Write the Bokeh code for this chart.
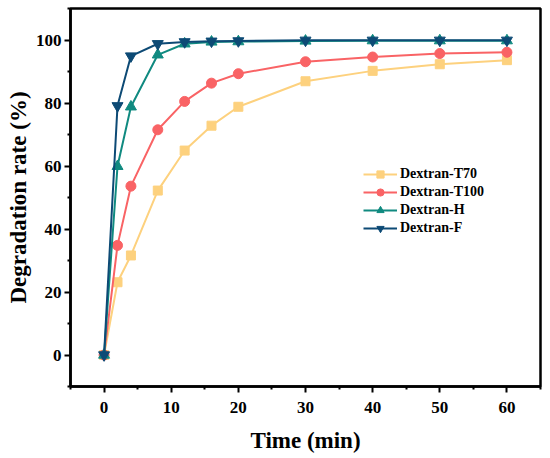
from bokeh.plotting import figure
from bokeh.models import Range1d, FixedTicker
from bokeh.embed import file_html
from bokeh.resources import INLINE

time_min = [0, 2, 4, 8, 12, 16, 20, 30, 40, 50, 60]
t70 = [0, 23.1, 31.6, 52.2, 64.9, 72.8, 78.8, 86.9, 90.2, 92.3, 93.6]
t100 = [0, 34.8, 53.6, 71.5, 80.5, 86.3, 89.3, 93.1, 94.6, 95.7, 96.1]
dex_h = [0, 59.9, 78.8, 95.3, 98.8, 99.4, 99.5, 99.7, 99.8, 99.8, 99.8]
dex_f = [0, 79.1, 94.9, 98.8, 99.4, 99.6, 99.7, 99.9, 99.9, 99.9, 99.9]

labels = ["Dextran-T70", "Dextran-T100", "Dextran-H", "Dextran-F"]
colors = ["#FDD17E", "#F96365", "#108A80", "#0D4A75"]
markers = ["square", "circle", "triangle", "inverted_triangle"]
sizes = [9, 10, 11, 11]
series = [t70, t100, dex_h, dex_f]

x_ticks = [0, 10, 20, 30, 40, 50, 60]
y_ticks = [0, 20, 40, 60, 80, 100]

FONT = "Liberation Serif"

p = figure(width=550, height=458, output_backend="svg", toolbar_location=None,
           x_range=Range1d(-5, 65), y_range=Range1d(-10, 110),
           min_border_left=70, min_border_right=10, min_border_top=8, min_border_bottom=72)

for lab, col, mk, sz, ys in zip(labels, colors, markers, sizes, series):
    p.line(time_min, ys, line_color=col, line_width=2, legend_label=lab)
    p.scatter(time_min, ys, marker=mk, size=sz, fill_color=col, line_color=col, legend_label=lab)

p.xgrid.visible = False
p.ygrid.visible = False
p.outline_line_color = "black"
p.outline_line_width = 2.5
p.background_fill_color = "white"
p.border_fill_color = "white"

p.xaxis.ticker = FixedTicker(ticks=x_ticks, minor_ticks=[-5, 5, 15, 25, 35, 45, 55, 65])
p.yaxis.ticker = FixedTicker(ticks=y_ticks, minor_ticks=[-10, 10, 30, 50, 70, 90, 110])

for ax in (p.xaxis, p.yaxis):
    ax.axis_line_width = 2.5
    ax.axis_line_color = "black"
    ax.major_tick_line_width = 2
    ax.minor_tick_line_width = 2
    ax.major_tick_in = 0
    ax.major_tick_out = 6
    ax.minor_tick_in = 0
    ax.minor_tick_out = 3
    ax.major_label_text_font = FONT
    ax.major_label_text_font_style = "bold"
    ax.major_label_text_font_size = "17px"
    ax.major_label_text_color = "black"
    ax.axis_label_text_font = FONT
    ax.axis_label_text_font_style = "bold"
    ax.axis_label_text_font_size = "23px"
    ax.axis_label_text_color = "black"

p.xaxis.axis_label = "Time (min)"
p.yaxis.axis_label = "Degradation rate (%)"
p.xaxis.major_label_standoff = 9
p.yaxis.major_label_standoff = 3
p.xaxis.axis_label_standoff = 12
p.yaxis.axis_label_standoff = 2

lg = p.legend[0]
lg.location = (293, 149)
lg.border_line_color = None
lg.background_fill_alpha = 0
lg.padding = 0
lg.margin = 0
lg.spacing = 0
lg.glyph_width = 34
lg.glyph_height = 18
lg.label_height = 18
lg.label_standoff = 3
lg.label_text_font = FONT
lg.label_text_font_style = "bold"
lg.label_text_font_size = "14px"
lg.label_text_color = "black"

open("out.html", "w").write(file_html(p, INLINE))
